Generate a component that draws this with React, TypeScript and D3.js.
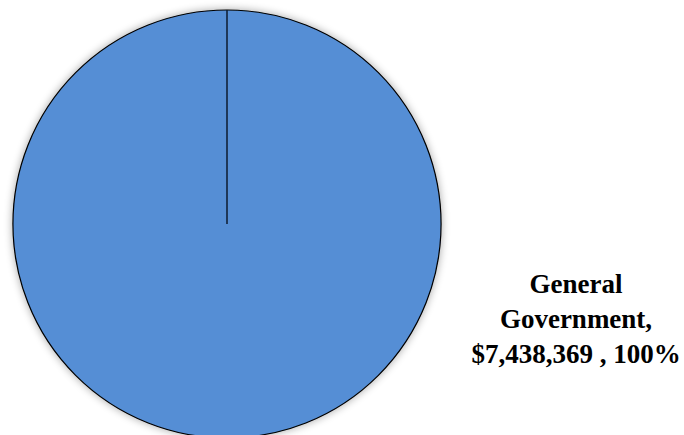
import React from "react";
import * as d3 from "d3";

const categories = ["General Government"];
const values = [7438369];
const labelLines = ["General", "Government,", "$7,438,369 , 100%"];

const W = 684;
const H = 435;
const cx = 227;
const cy = 224;
const R = 214;

export default function App() {
  const pie = d3.pie<number>().sort(null).startAngle(0).endAngle(2 * Math.PI);
  const arcs = pie(values);
  const arcGen = d3.arc<d3.PieArcDatum<number>>().innerRadius(0).outerRadius(R);
  return (
    <svg
      width={W}
      height={H}
      style={{ position: "absolute", left: 0, top: 0, background: "#fff" }}
    >
      <defs>
        <filter id="sh" x="-20%" y="-20%" width="140%" height="140%">
          <feGaussianBlur in="SourceAlpha" stdDeviation="4" />
          <feComponentTransfer>
            <feFuncA type="linear" slope="0.35" />
          </feComponentTransfer>
          <feMerge>
            <feMergeNode />
            <feMergeNode in="SourceGraphic" />
          </feMerge>
        </filter>
      </defs>
      <g transform={`translate(${cx},${cy})`}>
        {arcs.map((a, i) => (
          <g key={categories[i]}>
            <path
              d={arcGen(a) || ""}
              fill="#558ED5"
              stroke="#000"
              strokeWidth={1.2}
              filter="url(#sh)"
            />
            <line
              x1={0}
              y1={0}
              x2={R * Math.sin(a.startAngle)}
              y2={-R * Math.cos(a.startAngle)}
              stroke="#0d1a2e"
              strokeWidth={1.5}
            />
          </g>
        ))}
      </g>
      <text
        textAnchor="middle"
        fontFamily="'Liberation Serif', serif"
        fontWeight="bold"
        fontSize={27}
        fill="#000"
      >
        {labelLines.map((l, i) => (
          <tspan key={i} x={576} y={293 + i * 35}>
            {l}
          </tspan>
        ))}
      </text>
    </svg>
  );
}
